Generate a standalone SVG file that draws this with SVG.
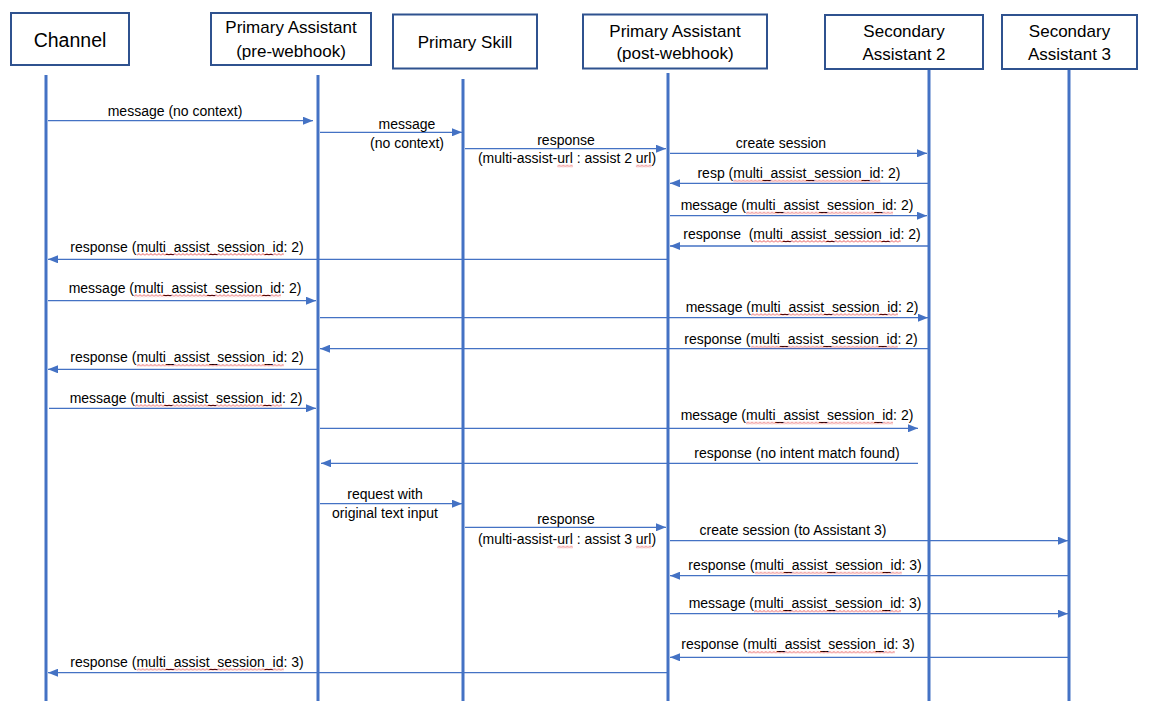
<svg xmlns="http://www.w3.org/2000/svg" width="1150" height="714" viewBox="0 0 1150 714">
<style>
.box{fill:#fff;stroke:#2F528F;stroke-width:2}
.life{stroke:#4472C4;stroke-width:3;fill:none}
.msg{stroke:#4472C4;stroke-width:1.3;fill:none;marker-end:url(#ah)}
text{font-family:"Liberation Sans",Arial,sans-serif;fill:#000}
.h{font-size:17px;text-anchor:middle}
.l{font-size:14px;text-anchor:middle}
.wv{fill:url(#wave)}
</style>
<defs>
<marker id="ah" markerUnits="userSpaceOnUse" markerWidth="10" markerHeight="8" refX="10" refY="4" orient="auto">
<path d="M0,0 L10,4 L0,8 z" fill="#4472C4"/>
</marker>
<pattern id="wave" patternUnits="userSpaceOnUse" width="4" height="3">
<path d="M0,2.5 L2,0.5 L4,2.5" fill="none" stroke="#E02020" stroke-width="0.8"/>
</pattern>
</defs>

<g id="node-channel">
<rect class="box" x="11" y="13" width="118" height="52"/>
<text x="70" y="47" style="font-size:19.5px;text-anchor:middle">Channel</text>
<line class="life" x1="46" y1="75" x2="46" y2="701"/>
</g>
<g id="node-pre">
<rect class="box" x="211" y="13" width="160" height="52"/>
<text class="h" x="291" y="33">Primary Assistant</text>
<text class="h" x="291" y="57">(pre-webhook)</text>
<line class="life" x1="318" y1="75" x2="318" y2="701"/>
</g>
<g id="node-skill">
<rect class="box" x="393" y="14.5" width="144" height="54"/>
<text class="h" x="465" y="48">Primary Skill</text>
<line class="life" x1="463" y1="79" x2="463" y2="701"/>
</g>
<g id="node-post">
<rect class="box" x="583" y="14.5" width="184" height="54"/>
<text class="h" x="675" y="36.5">Primary Assistant</text>
<text class="h" x="675" y="59">(post-webhook)</text>
<line class="life" x1="668" y1="73" x2="668" y2="701"/>
</g>
<g id="node-sec2">
<rect class="box" x="825" y="15" width="158" height="54"/>
<text class="h" x="904" y="37">Secondary</text>
<text class="h" x="904" y="60">Assistant 2</text>
<line class="life" x1="929" y1="70" x2="929" y2="701"/>
</g>
<g id="node-sec3">
<rect class="box" x="1002" y="15" width="135" height="54"/>
<text class="h" x="1069.5" y="37">Secondary</text>
<text class="h" x="1069.5" y="60">Assistant 3</text>
<line class="life" x1="1069" y1="70" x2="1069" y2="701"/>
</g>

<g id="connectors">
<line class="msg" x1="48" y1="120.7" x2="313" y2="120.7"/>
<line class="msg" x1="320" y1="132.3" x2="462" y2="132.3"/>
<line class="msg" x1="465" y1="148.7" x2="666" y2="148.7"/>
<line class="msg" x1="670" y1="153.3" x2="927" y2="153.3"/>
<line class="msg" x1="928" y1="183.3" x2="670" y2="183.3"/>
<line class="msg" x1="670" y1="215.7" x2="927" y2="215.7"/>
<line class="msg" x1="928" y1="246" x2="670" y2="246"/>
<line class="msg" x1="667" y1="259.3" x2="48" y2="259.3"/>
<line class="msg" x1="48" y1="300.7" x2="316" y2="300.7"/>
<line class="msg" x1="320" y1="317.7" x2="928" y2="317.7"/>
<line class="msg" x1="928" y1="348.7" x2="320" y2="348.7"/>
<line class="msg" x1="317" y1="369.3" x2="48" y2="369.3"/>
<line class="msg" x1="49" y1="408.3" x2="316" y2="408.3"/>
<line class="msg" x1="320" y1="428.3" x2="918" y2="428.3"/>
<line class="msg" x1="918" y1="463.3" x2="321" y2="463.3"/>
<line class="msg" x1="320" y1="503.7" x2="462" y2="503.7"/>
<line class="msg" x1="465" y1="527.3" x2="666" y2="527.3"/>
<line class="msg" x1="670" y1="540.7" x2="1068" y2="540.7"/>
<line class="msg" x1="1068" y1="575.7" x2="670" y2="575.7"/>
<line class="msg" x1="670" y1="613.7" x2="1068" y2="613.7"/>
<line class="msg" x1="1068" y1="657.3" x2="670" y2="657.3"/>
<line class="msg" x1="667" y1="672.7" x2="48" y2="672.7"/>
</g>

<g id="labels">
<text class="l" x="175" y="116">message (no context)</text>
<text class="l" x="407" y="129">message</text>
<text class="l" x="407" y="148">(no context)</text>
<text class="l" x="566" y="145">response</text>
<text class="l" x="567" y="163">(multi-assist-url : assist 2 url)</text>
<text class="l" x="781" y="148">create session</text>
<text class="l" x="799" y="178">resp (multi_assist_session_id: 2)</text>
<text class="l" x="797" y="210">message (multi_assist_session_id: 2)</text>
<text class="l" x="802" y="238.5" xml:space="preserve">response  (multi_assist_session_id: 2)</text>
<text class="l" x="187" y="251.5">response (multi_assist_session_id: 2)</text>
<text class="l" x="185" y="292.7">message (multi_assist_session_id: 2)</text>
<text class="l" x="802" y="311.7">message (multi_assist_session_id: 2)</text>
<text class="l" x="801" y="344">response (multi_assist_session_id: 2)</text>
<text class="l" x="187" y="362.3">response (multi_assist_session_id: 2)</text>
<text class="l" x="186" y="402.7">message (multi_assist_session_id: 2)</text>
<text class="l" x="797" y="420">message (multi_assist_session_id: 2)</text>
<text class="l" x="797" y="458.3">response (no intent match found)</text>
<text class="l" x="385" y="499">request with</text>
<text class="l" x="385" y="517.7">original text input</text>
<text class="l" x="566" y="524">response</text>
<text class="l" x="567" y="544">(multi-assist-url : assist 3 url)</text>
<text class="l" x="793" y="535">create session (to Assistant 3)</text>
<text class="l" x="805" y="570">response (multi_assist_session_id: 3)</text>
<text class="l" x="805" y="608.3">message (multi_assist_session_id: 3)</text>
<text class="l" x="798" y="649.3">response (multi_assist_session_id: 3)</text>
<text class="l" x="187" y="666.7">response (multi_assist_session_id: 3)</text>
</g>

<g id="spellcheck">
<rect class="wv" transform="translate(557.3,164.5)" width="15.6" height="3"/>
<rect class="wv" transform="translate(635.9,164.5)" width="15.6" height="3"/>
<rect class="wv" transform="translate(733.3,179.5)" width="147" height="3"/>
<rect class="wv" transform="translate(746,211.5)" width="147" height="3"/>
<rect class="wv" transform="translate(753.8,240)" width="147" height="3"/>
<rect class="wv" transform="translate(136.8,253)" width="147" height="3"/>
<rect class="wv" transform="translate(134,294.2)" width="147" height="3"/>
<rect class="wv" transform="translate(751,313.2)" width="147" height="3"/>
<rect class="wv" transform="translate(750.8,345.5)" width="147" height="3"/>
<rect class="wv" transform="translate(136.8,363.8)" width="147" height="3"/>
<rect class="wv" transform="translate(135,404.2)" width="147" height="3"/>
<rect class="wv" transform="translate(746,421.5)" width="147" height="3"/>
<rect class="wv" transform="translate(557.3,545.5)" width="15.6" height="3"/>
<rect class="wv" transform="translate(635.9,545.5)" width="15.6" height="3"/>
<rect class="wv" transform="translate(754.8,571.5)" width="147" height="3"/>
<rect class="wv" transform="translate(754,609.8)" width="147" height="3"/>
<rect class="wv" transform="translate(747.8,650.8)" width="147" height="3"/>
<rect class="wv" transform="translate(136.8,668.2)" width="147" height="3"/>
</g>
</svg>
